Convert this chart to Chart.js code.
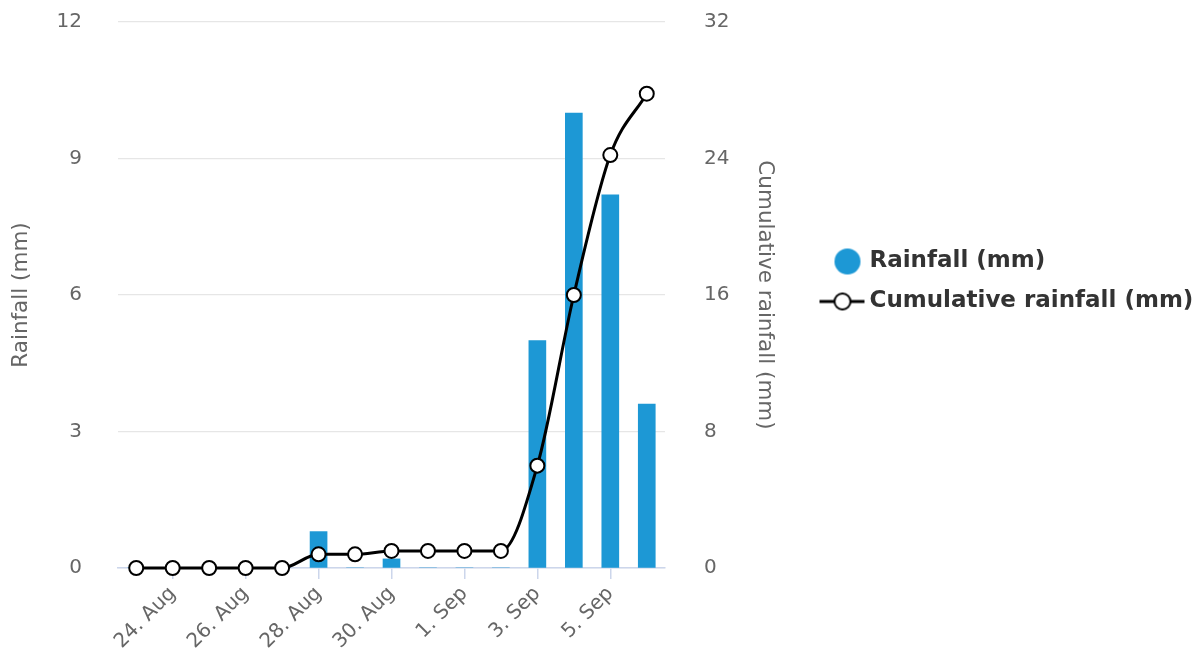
<!DOCTYPE html>
<html>
<head>
<meta charset="utf-8">
<title>Rainfall</title>
<script src="https://cdn.jsdelivr.net/npm/chart.js@4.4.1/dist/chart.umd.min.js"></script>
<style>
    html, body { margin: 0; padding: 0; background: #fff; }
    #wrap { width: 1203px; height: 663px; position: relative; }
</style>
</head>
<body>
<div id="wrap"><canvas id="rainChart"></canvas></div>
<script>
// data
var days = ['23. Aug', '24. Aug', '25. Aug', '26. Aug', '27. Aug', '28. Aug', '29. Aug', '30. Aug',
    '31. Aug', '1. Sep', '2. Sep', '3. Sep', '4. Sep', '5. Sep', '6. Sep'];
var rainfall = [0, 0, 0, 0, 0, 0.8, 0, 0.2, 0, 0, 0, 5.0, 10.0, 8.2, 3.6];
var cumulative = [0, 0, 0, 0, 0, 0.8, 0.8, 1.0, 1.0, 1.0, 1.0, 6.0, 16.0, 24.2, 27.8];
var rainTicks = [0, 3, 6, 9, 12];
var cumulTicks = [0, 8, 16, 24, 32];

var barColor = '#1d98d5';
var tickGrey = '#666666';

Chart.defaults.font.family = '"DejaVu Sans", Verdana, sans-serif';

// legend symbols (circle for the bars, line + marker for the spline)
function makeMarker(kind) {
    var c = document.createElement('canvas');
    c.width = 60;
    c.height = 30;
    var g = c.getContext('2d');
    if (kind == 'bar') {
        g.fillStyle = barColor;
        g.beginPath();
        g.arc(31, 15, 13, 0, Math.PI * 2);
        g.fill();
    } else {
        g.strokeStyle = '#000';
        g.lineWidth = 3;
        g.beginPath();
        g.moveTo(3, 15);
        g.lineTo(48, 15);
        g.stroke();
        g.fillStyle = '#fff';
        g.lineWidth = 2;
        g.beginPath();
        g.arc(26, 15, 8, 0, Math.PI * 2);
        g.fill();
        g.stroke();
    }
    return c;
}
var barMarker = makeMarker('bar');
var lineMarker = makeMarker('line');

// put the legend to the right of the second axis
var placeLegend = {
    id: 'placeLegend',
    afterLayout: function (chart) {
        var lg = chart.legend;
        lg.left = 818;
        lg.right = 1203;
        lg.top = 233;
        lg.bottom = 568;
        lg.width = lg.right - lg.left;
        lg.height = lg.bottom - lg.top;
    }
};

var ctx = document.getElementById('rainChart').getContext('2d');
var rainChart = new Chart(ctx, {
    type: 'bar',
    data: {
        labels: days,
        datasets: [{
            label: 'Rainfall (mm)',
            data: rainfall,
            backgroundColor: barColor,
            barThickness: 17,
            yAxisID: 'y',
            order: 2
        }, {
            type: 'line',
            label: 'Cumulative rainfall (mm)',
            data: cumulative,
            borderColor: '#000',
            borderWidth: 3,
            cubicInterpolationMode: 'monotone',
            pointRadius: 7,
            pointBorderWidth: 2,
            pointBackgroundColor: '#fff',
            pointBorderColor: '#000',
            clip: false,
            yAxisID: 'y1',
            order: 1
        }]
    },
    options: {
        responsive: true,
        maintainAspectRatio: false,
        animation: false,
        layout: {
            padding: { top: 22, right: 408, bottom: 0, left: 0 }
        },
        scales: {
            x: {
                offset: true,
                grid: {
                    display: true,
                    offset: false,
                    drawOnChartArea: false,
                    drawTicks: true,
                    tickLength: 11,
                    lineWidth: 1.5,
                    color: function (c) {
                        return c.index % 2 == 1 ? '#ccd6eb' : 'rgba(0,0,0,0)';
                    }
                },
                border: { color: '#ccd6eb', width: 1.5 },
                ticks: {
                    autoSkip: false,
                    maxRotation: 45,
                    minRotation: 45,
                    color: tickGrey,
                    font: { size: 20 },
                    callback: function (val, index) {
                        return index % 2 == 1 ? days[index] : '';
                    }
                },
                afterFit: function (scale) {
                    scale.height = 95;
                }
            },
            y: {
                position: 'left',
                min: rainTicks[0],
                max: rainTicks[rainTicks.length - 1],
                afterBuildTicks: function (scale) {
                    scale.ticks = rainTicks.map(function (v) { return { value: v }; });
                },
                // invisible tick marks keep the labels away from the plot
                grid: { color: '#e6e6e6', lineWidth: 1.2, drawTicks: true, tickLength: 33, tickColor: 'rgba(0,0,0,0)' },
                border: { display: false },
                ticks: { color: tickGrey, font: { size: 20 }, padding: 3 },
                title: {
                    display: true,
                    text: 'Rainfall (mm)',
                    color: tickGrey,
                    font: { size: 21.5 },
                    padding: { top: 9, bottom: 0 }
                },
                afterFit: function (scale) {
                    scale.width = 118;
                }
            },
            y1: {
                position: 'right',
                min: cumulTicks[0],
                max: cumulTicks[cumulTicks.length - 1],
                afterBuildTicks: function (scale) {
                    scale.ticks = cumulTicks.map(function (v) { return { value: v }; });
                },
                grid: { display: true, drawOnChartArea: false, drawTicks: true, tickLength: 36, tickColor: 'rgba(0,0,0,0)' },
                border: { display: false },
                ticks: { color: tickGrey, font: { size: 20 }, padding: 3 },
                title: {
                    display: true,
                    text: 'Cumulative rainfall (mm)',
                    color: tickGrey,
                    font: { size: 21.5 },
                    padding: { top: 18, bottom: 0 }
                },
                afterFit: function (scale) {
                    scale.width = 130;
                }
            }
        },
        plugins: {
            tooltip: { enabled: false },
            legend: {
                position: 'chartArea',
                fullSize: false,
                align: 'start',
                labels: {
                    usePointStyle: true,
                    boxWidth: 23,
                    boxHeight: 23,
                    padding: 17,
                    color: '#333333',
                    font: { size: 23, weight: 'bold' },
                    sort: function (a, b) { return a.datasetIndex - b.datasetIndex; },
                    generateLabels: function (chart) {
                        var items = Chart.defaults.plugins.legend.labels.generateLabels(chart);
                        items.forEach(function (it) {
                            it.pointStyle = it.datasetIndex == 0 ? barMarker : lineMarker;
                        });
                        return items;
                    }
                }
            }
        }
    },
    plugins: [placeLegend]
});
</script>
</body>
</html>
